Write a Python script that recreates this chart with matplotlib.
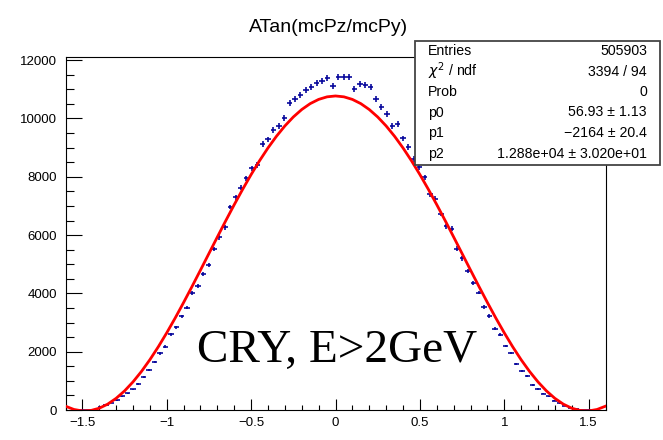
import numpy as np
import matplotlib.pyplot as plt
from matplotlib.patches import Rectangle
from matplotlib.ticker import MultipleLocator

plt.rcParams['font.family'] = ['Liberation Sans', 'DejaVu Sans']

# histogram of ATan(mcPz/mcPy): 100 bins on [-1.6, 1.6]
bin_edges = np.linspace(-1.6, 1.6, 101)
counts = [
    0, 0, 1, 2, 4, 12, 100, 182, 245, 330,
    465, 573, 710, 902, 1142, 1382, 1636, 1945, 2171, 2597,
    2837, 3214, 3509, 4003, 4253, 4665, 4963, 5522, 5924, 6266,
    6963, 7296, 7625, 7947, 8290, 8403, 9134, 9285, 9604, 9731,
    10026, 10520, 10667, 10815, 10976, 11089, 11205, 11274, 11377, 11113,
    11432, 11432, 11432, 11021, 11182, 11137, 11068, 10678, 10393, 10143,
    9741, 9820, 9320, 9021, 8609, 8325, 7982, 7398, 7250, 6723,
    6300, 6220, 5540, 5200, 4770, 4346, 4030, 3530, 3220, 2785,
    2580, 2200, 1955, 1588, 1348, 1166, 847, 720, 559, 470,
    319, 230, 148, 79, 24, 6, 2, 1, 0, 0,
]

# fitted curve sampled every 0.05 from -1.6 to 1.6
fit_x = np.linspace(-1.6, 1.6, 65)
fit_y = [
    131, 18, -32, -17, 61, 201, 400, 655, 964, 1322,
    1725, 2169, 2648, 3156, 3689, 4239, 4801, 5369, 5936, 6497,
    7045, 7573, 8077, 8552, 8991, 9390, 9745, 10052, 10308, 10510,
    10655, 10743, 10773, 10743, 10655, 10510, 10308, 10052, 9745, 9390,
    8991, 8552, 8077, 7573, 7045, 6497, 5936, 5369, 4801, 4239,
    3689, 3156, 2648, 2169, 1725, 1322, 964, 655, 400, 201,
    61, -17, -32, 18, 131,
]

stats_labels = ['Entries', r'$\chi^{2}$ / ndf', 'Prob', 'p0', 'p1', 'p2']
stats_values = ['505903', '3394 / 94', '0', '56.93 \u00b1 1.13',
                '\u22122164 \u00b1 20.4', '1.288e+04 \u00b1 3.020e+01']

x_ticks = [-1.5, -1.0, -0.5, 0.0, 0.5, 1.0, 1.5]
x_tick_labels = ['\u22121.5', '\u22121', '\u22120.5', '0', '0.5', '1', '1.5']
y_ticks = [0, 2000, 4000, 6000, 8000, 10000, 12000]

W, H = 663, 440
fig = plt.figure(figsize=(W / 100, H / 100), dpi=100)
ax = fig.add_axes([65.5 / W, 30 / H, 540 / W, 353.3 / H])

centers = 0.5 * (bin_edges[:-1] + bin_edges[1:])
half_w = 0.5 * (bin_edges[1] - bin_edges[0])
counts = np.array(counts, dtype=float)
filled = counts > 0
ax.errorbar(centers[filled], counts[filled], xerr=half_w,
            yerr=np.sqrt(counts[filled]), fmt='none',
            ecolor='#000099', elinewidth=1.15, capsize=0, zorder=2)

ax.plot(fit_x, fit_y, color='#ff0000', lw=2.0, zorder=3,
        solid_joinstyle='round')

ax.set_xlim(-1.6, 1.6)
ax.set_ylim(0, 12120)

ax.set_xticks(x_ticks)
ax.set_xticklabels(x_tick_labels)
ax.set_yticks(y_ticks)
ax.set_yticklabels([str(v) for v in y_ticks])
ax.xaxis.set_minor_locator(MultipleLocator(0.1))
ax.yaxis.set_minor_locator(MultipleLocator(500))

ax.tick_params(axis='x', which='major', direction='in', length=7.6,
               width=0.8, pad=5, labelsize=9.5)
ax.tick_params(axis='x', which='minor', direction='in', length=3.8, width=0.8)
ax.tick_params(axis='y', which='major', direction='in', length=11.5,
               width=0.8, pad=6, labelsize=9.5)
ax.tick_params(axis='y', which='minor', direction='in', length=5.8, width=0.8)
for sp in ax.spines.values():
    sp.set_linewidth(0.8)

fig.text(329 / W, 1 - 28 / H, 'ATan(mcPz/mcPy)', ha='center', va='center',
         fontsize=14)

# stats box
box_l, box_r, box_t, box_b = 415, 660, 41, 165
fig.add_artist(Rectangle((box_l / W, 1 - box_b / H), (box_r - box_l) / W,
                         (box_b - box_t) / H, transform=fig.transFigure,
                         facecolor='white', edgecolor='#444444', lw=1.3,
                         zorder=5))
row_y = [50.7, 71.5, 92.3, 112.5, 133.0, 154.0]
for lab, val, yy in zip(stats_labels, stats_values, row_y):
    fig.text(428 / W, 1 - yy / H, lab, ha='left', va='center',
             fontsize=10.2, zorder=6)
    fig.text(647 / W, 1 - yy / H, val, ha='right', va='center',
             fontsize=10.2, zorder=6)

fig.text(197 / W, 1 - 362 / H, 'CRY, E>2GeV', ha='left', va='baseline',
         fontsize=34, family='Liberation Serif', zorder=6)

fig.savefig('out.png', dpi=100)
